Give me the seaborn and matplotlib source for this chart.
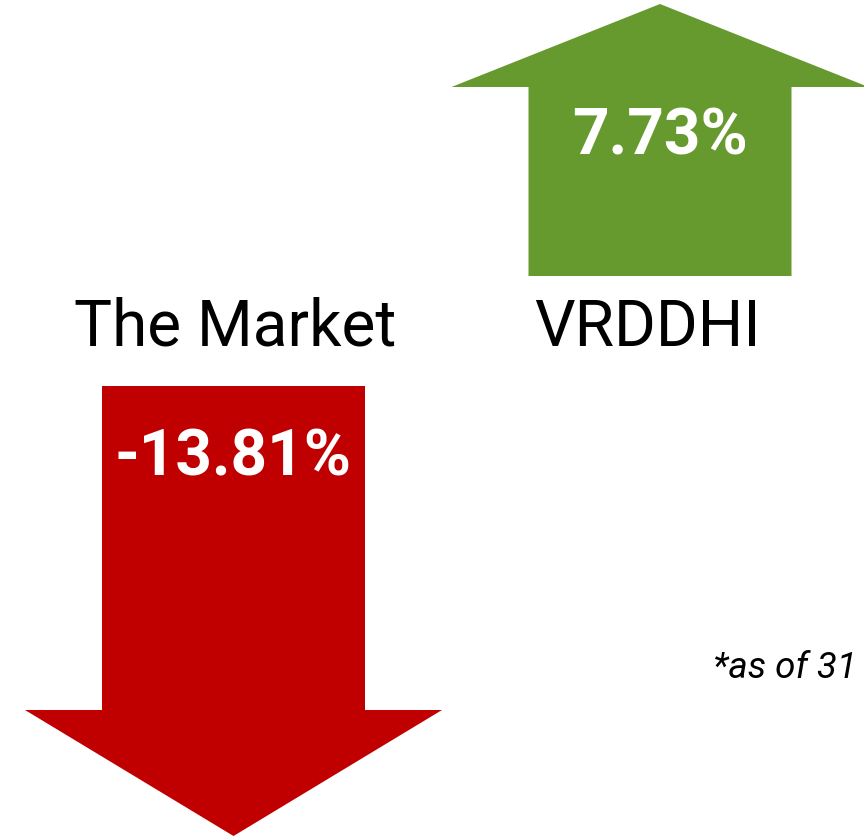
import matplotlib
matplotlib.use("Agg")
import matplotlib.pyplot as plt
import seaborn as sns

# data
names = ["The Market", "VRDDHI"]
returns = [-13.81, 7.73]
footnote = "*as of 31"

# arrow layout (pixel space), one entry per name
centers = [233.5, 660]
starts = [386, 276]      # flat end of the shaft
tips = [836, 4]
head_bases = [710, 87]
shaft_w = 263
head_w = 417
label_x = [235, 647]
value_y = [458, 137]

sns.set_theme(style="white")
plt.rcParams["font.family"] = ["Roboto", "DejaVu Sans"]

fig = plt.figure(figsize=(8.64, 8.36), dpi=100)
ax = fig.add_axes([0, 0, 1, 1])
ax.set_xlim(0, 864)
ax.set_ylim(836, 0)
ax.axis("off")

for i, v in enumerate(returns):
    color = "#669A2E" if v > 0 else "#C00000"
    cx = centers[i]
    xs = [cx - shaft_w / 2, cx + shaft_w / 2, cx + shaft_w / 2, cx + head_w / 2,
          cx, cx - head_w / 2, cx - shaft_w / 2]
    ys = [starts[i], starts[i], head_bases[i], head_bases[i],
          tips[i], head_bases[i], head_bases[i]]
    ax.fill(xs, ys, color=color, lw=0)
    ax.text(cx, value_y[i], f"{v:.2f}%", color="white", fontsize=46,
            fontweight="bold", ha="center", va="center")
    ax.text(label_x[i], 346, names[i], color="black", fontsize=46,
            ha="center", va="baseline")

ax.text(713, 678, footnote, fontsize=26.5, fontstyle="italic",
        ha="left", va="baseline", color="black")

fig.savefig("out.png", dpi=100)
